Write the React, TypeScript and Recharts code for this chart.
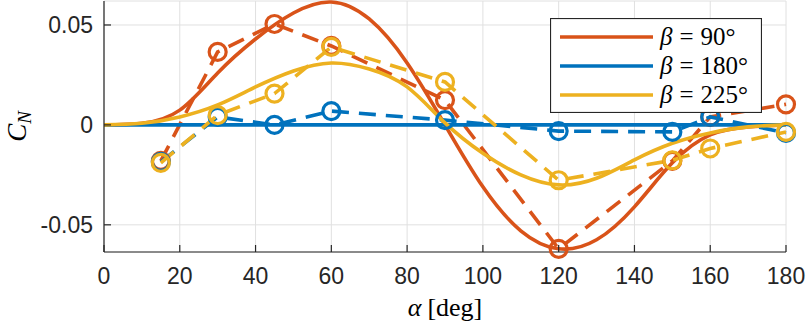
import { LineChart, Line, XAxis, YAxis, CartesianGrid, Legend, Label } from 'recharts';

// fitted curves (smooth), sampled every 10 deg
const alphaFit = [0, 10, 20, 30, 40, 50, 60, 70, 80, 90, 100, 110, 120, 130, 140, 150, 160, 170, 180];
const beta90Fit = [0, 0.0008, 0.0074, 0.026, 0.043, 0.056, 0.0615, 0.053, 0.031, 0.0, -0.031, -0.053, -0.062, -0.0575, -0.041, -0.019, -0.005, -0.001, 0];
const beta180Fit = [0, 0, 0, 0, 0, 0, 0, 0, 0, 0, 0, 0, 0, 0, 0, 0, 0, 0, 0];
const beta225Fit = [0, 0.0008, 0.004, 0.01, 0.019, 0.027, 0.031, 0.028, 0.019, 0.001, -0.0142, -0.025, -0.03, -0.0267, -0.0175, -0.0092, -0.004, -0.001, 0];

// measured points
const alphaExp = [15, 30, 45, 60, 90, 120, 150, 160, 180];
const beta90Exp = [-0.018, 0.0365, 0.0505, 0.0395, 0.0124, -0.062, -0.018, 0.004, 0.0103];
const beta180Exp = [-0.0185, 0.004, 0.0, 0.0069, 0.0024, -0.0031, -0.0035, 0.004, -0.004];
const beta225Exp = [-0.019, 0.0049, 0.0157, 0.039, 0.0215, -0.0277, -0.0177, -0.0118, -0.0035];

const xTicks = [0, 20, 40, 60, 80, 100, 120, 140, 160, 180];
const yTicks = [-0.05, 0, 0.05];
const yDomain = [-0.0636, 0.062];

const SERIES = [
  { beta: '90', color: '#D95319', fit: beta90Fit, exp: beta90Exp },
  { beta: '180', color: '#0072BD', fit: beta180Fit, exp: beta180Exp },
  { beta: '225', color: '#EDB120', fit: beta225Fit, exp: beta225Exp },
];

const toPoints = (xs: number[], ys: number[]) => xs.map((a, i) => ({ a, v: ys[i] }));

const AXIS = '#262626';
const LW = 3.6;
const TICK = -7; // negative = ticks point into the plot
const tickFont = { fontSize: 23, fill: AXIS, fontFamily: 'Liberation Sans, Arial, sans-serif' };
const serif = 'Liberation Serif, Times New Roman, serif';

function LegendBox() {
  return (
    <svg width={212} height={95} style={{ display: 'block' }}>
      <rect x={0.5} y={0.5} width={211} height={94} fill="#fff" stroke={AXIS} strokeWidth={1.2} />
      {SERIES.map((s, i) => {
        const y = 19 + i * 29;
        return (
          <g key={s.beta}>
            <line x1={10} x2={103} y1={y} y2={y} stroke={s.color} strokeWidth={LW} />
            <text x={110} y={y + 8} fontFamily={serif} fontSize={25} fill="#000">
              <tspan fontStyle="italic">β</tspan>
              <tspan dx={7}>=</tspan>
              <tspan dx={7}>{s.beta}°</tspan>
            </text>
          </g>
        );
      })}
    </svg>
  );
}

export default function App() {
  return (
    <div style={{ position: 'absolute', left: 0, top: 0 }}>
      <LineChart width={806} height={325} margin={{ top: 1, right: 20, left: 0, bottom: 0 }}>
        <CartesianGrid stroke="#e0e0e0" strokeWidth={1} />
        {/* box: top and right axes carry only tick marks */}
        <XAxis xAxisId="top" orientation="top" type="number" domain={[0, 180]} ticks={xTicks}
          height={0} tick={false} tickSize={TICK} allowDataOverflow stroke={AXIS} strokeWidth={1.2} />
        <YAxis yAxisId="right" orientation="right" type="number" domain={yDomain} ticks={yTicks}
          width={0} tick={false} tickSize={TICK} allowDataOverflow stroke={AXIS} strokeWidth={1.2} />
        <XAxis
          dataKey="a"
          type="number"
          domain={[0, 180]}
          ticks={xTicks}
          height={73}
          tick={tickFont}
          tickSize={TICK}
          tickMargin={23}
          stroke={AXIS}
          strokeWidth={1.2}
        >
          <Label
            content={({ viewBox }: any) => (
              <text
                x={viewBox.x + viewBox.width / 2}
                y={viewBox.y + 64}
                textAnchor="middle"
                fontFamily={serif}
                fontSize={26}
                fill="#000"
              >
                <tspan fontStyle="italic">α</tspan>
                <tspan dx={6}>[deg]</tspan>
              </text>
            )}
          />
        </XAxis>
        <YAxis
          type="number"
          domain={yDomain}
          ticks={yTicks}
          width={104}
          tick={tickFont}
          tickSize={TICK}
          tickMargin={18}
          tickFormatter={(v: number) => (v === 0 ? '0' : v.toFixed(2))}
          stroke={AXIS}
          strokeWidth={1.2}
        >
          <Label
            content={({ viewBox }: any) => {
              const cx = 26;
              const cy = viewBox.y + viewBox.height / 2;
              return (
                <text
                  x={cx}
                  y={cy}
                  transform={`rotate(-90, ${cx}, ${cy})`}
                  textAnchor="middle"
                  fontFamily={serif}
                  fontSize={27}
                  fontStyle="italic"
                  fill="#000"
                >
                  C<tspan fontSize={19} dy={5}>N</tspan>
                </text>
              );
            }}
          />
        </YAxis>
        <Legend
          layout="horizontal"
          verticalAlign="middle"
          align="center"
          wrapperStyle={{ left: 550, top: 18, width: 212, height: 95 }}
          content={() => <LegendBox />}
        />
        {/* invisible series so the top/right axes get drawn */}
        <Line
          xAxisId="top"
          yAxisId="right"
          data={toPoints(alphaFit, beta180Fit)}
          dataKey="v"
          stroke="none"
          dot={false}
          activeDot={false}
          legendType="none"
          isAnimationActive={false}
        />
        {SERIES.flatMap((s) => [
          <Line
            key={`fit-${s.beta}`}
            data={toPoints(alphaFit, s.fit)}
            dataKey="v"
            type="natural"
            stroke={s.color}
            strokeWidth={LW}
            dot={false}
            activeDot={false}
            isAnimationActive={false}
          />,
          <Line
            key={`exp-${s.beta}`}
            data={toPoints(alphaExp, s.exp)}
            dataKey="v"
            type="linear"
            stroke={s.color}
            strokeWidth={LW}
            strokeDasharray="17 10"
            legendType="none"
            dot={(p: any) => (
              <circle
                key={`d-${s.beta}-${p.index}`}
                cx={p.cx}
                cy={p.cy}
                r={8.5}
                fill="none"
                stroke={s.color}
                strokeWidth={3.2}
              />
            )}
            activeDot={false}
            isAnimationActive={false}
          />,
        ])}
      </LineChart>
    </div>
  );
}
